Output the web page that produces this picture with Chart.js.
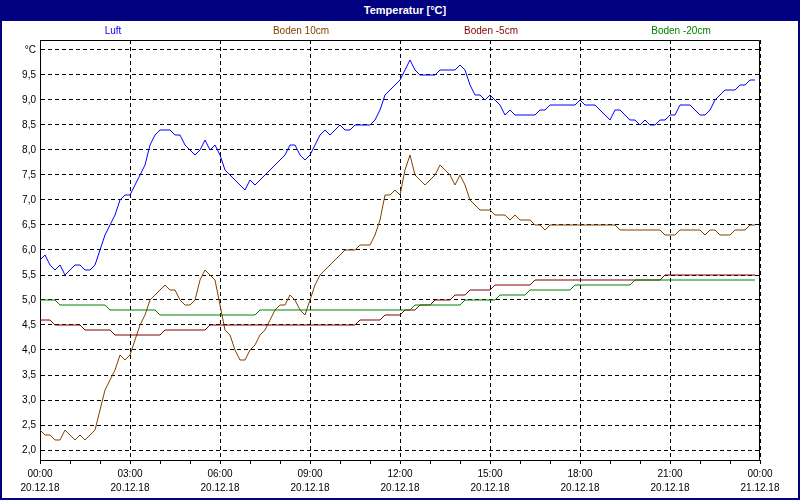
<!DOCTYPE html>
<html><head><meta charset="utf-8">
<script src="https://cdn.jsdelivr.net/npm/chart.js@4"></script>
<style>
html,body{margin:0;padding:0;background:#fff}
#wrap{position:relative;width:800px;height:500px;overflow:hidden;background:#fff;font-family:"Liberation Sans",Arial,sans-serif}
#c{position:absolute;left:0;top:0}
#title{position:absolute;left:0;top:0;width:800px;height:21px;background:#000080;color:#fff;font-weight:bold;font-size:11px;line-height:20px;text-align:center;box-sizing:border-box;padding-left:10px}
.lg{position:absolute;top:24px;font-size:10px;line-height:14px;transform:translateX(-50%);white-space:nowrap}
#frame{position:absolute;left:0;top:0;width:800px;height:500px;box-sizing:border-box;border:2px solid #000080;pointer-events:none}
</style></head><body>
<div id="wrap">
<canvas id="c" width="800" height="500"></canvas>
<div id="title">Temperatur [°C]</div>
<div id="frame"></div>
</div>
<script>
const chartTitle = 'Temperatur [°C]';
const seriesNames = ['Luft', 'Boden 10cm', 'Boden -5cm', 'Boden -20cm'];
const seriesColors = ['#0000ff', '#804000', '#800000', '#008000'];
const legendX = [113, 301, 491, 681];

const times = [
"00:00","00:10","00:20","00:30","00:40","00:50","01:00","01:10","01:20","01:30","01:40","01:50",
"02:00","02:10","02:20","02:30","02:40","02:50","03:00","03:10","03:20","03:30","03:40","03:50",
"04:00","04:10","04:20","04:30","04:40","04:50","05:00","05:10","05:20","05:30","05:40","05:50",
"06:00","06:10","06:20","06:30","06:40","06:50","07:00","07:10","07:20","07:30","07:40","07:50",
"08:00","08:10","08:20","08:30","08:40","08:50","09:00","09:10","09:20","09:30","09:40","09:50",
"10:00","10:10","10:20","10:30","10:40","10:50","11:00","11:10","11:20","11:30","11:40","11:50",
"12:00","12:10","12:20","12:30","12:40","12:50","13:00","13:10","13:20","13:30","13:40","13:50",
"14:00","14:10","14:20","14:30","14:40","14:50","15:00","15:10","15:20","15:30","15:40","15:50",
"16:00","16:10","16:20","16:30","16:40","16:50","17:00","17:10","17:20","17:30","17:40","17:50",
"18:00","18:10","18:20","18:30","18:40","18:50","19:00","19:10","19:20","19:30","19:40","19:50",
"20:00","20:10","20:20","20:30","20:40","20:50","21:00","21:10","21:20","21:30","21:40","21:50",
"22:00","22:10","22:20","22:30","22:40","22:50","23:00","23:10","23:20","23:30","23:40","23:50",
"24:00"];

const xTickLabels = [
  ['00:00','20.12.18'], ['03:00','20.12.18'], ['06:00','20.12.18'], ['09:00','20.12.18'],
  ['12:00','20.12.18'], ['15:00','20.12.18'], ['18:00','20.12.18'], ['21:00','20.12.18'],
  ['00:00','21.12.18']];
const yTickValues = [2.0,2.5,3.0,3.5,4.0,4.5,5.0,5.5,6.0,6.5,7.0,7.5,8.0,8.5,9.0,9.5,10.0];
const yUnitLabel = '°C';

const luft = [
5.8,5.9,5.7,5.6,5.7,5.5,5.6,5.7,5.7,5.6,5.6,5.7,
6.0,6.3,6.5,6.7,7.0,7.1,7.1,7.3,7.5,7.7,8.1,8.3,
8.4,8.4,8.4,8.3,8.3,8.1,8.0,7.9,8.0,8.2,8.0,8.1,
7.9,7.6,7.5,7.4,7.3,7.2,7.4,7.3,7.4,7.5,7.6,7.7,
7.8,7.9,8.1,8.1,7.9,7.8,7.9,8.1,8.3,8.4,8.3,8.4,
8.5,8.4,8.4,8.5,8.5,8.5,8.5,8.6,8.8,9.1,9.2,9.3,
9.4,9.6,9.8,9.6,9.5,9.5,9.5,9.5,9.6,9.6,9.6,9.6,
9.7,9.6,9.3,9.1,9.1,9.0,9.1,9.0,8.9,8.7,8.8,8.7,
8.7,8.7,8.7,8.7,8.8,8.8,8.9,8.9,8.9,8.9,8.9,8.9,
9.0,8.9,8.9,8.9,8.8,8.7,8.6,8.8,8.8,8.7,8.6,8.6,
8.5,8.6,8.5,8.5,8.6,8.6,8.7,8.7,8.9,8.9,8.9,8.8,
8.7,8.7,8.8,9.0,9.1,9.2,9.2,9.2,9.3,9.3,9.4,9.4];

const boden10 = [
2.4,2.3,2.3,2.2,2.2,2.4,2.3,2.2,2.3,2.2,2.3,2.4,
2.8,3.2,3.4,3.6,3.9,3.8,3.9,4.2,4.5,4.7,5.0,5.1,
5.2,5.3,5.2,5.2,5.0,4.9,4.9,5.0,5.4,5.6,5.5,5.4,
4.9,4.4,4.3,4.0,3.8,3.8,4.0,4.1,4.3,4.4,4.6,4.8,
4.9,4.9,5.1,5.0,4.8,4.7,5.0,5.3,5.5,5.6,5.7,5.8,
5.9,6.0,6.0,6.0,6.1,6.1,6.1,6.3,6.6,7.1,7.1,7.2,
7.1,7.6,7.9,7.5,7.4,7.3,7.4,7.5,7.7,7.6,7.5,7.3,
7.5,7.3,7.0,6.9,6.8,6.8,6.8,6.7,6.7,6.7,6.6,6.7,
6.6,6.6,6.6,6.5,6.5,6.4,6.5,6.5,6.5,6.5,6.5,6.5,
6.5,6.5,6.5,6.5,6.5,6.5,6.5,6.5,6.4,6.4,6.4,6.4,
6.4,6.4,6.4,6.4,6.4,6.3,6.3,6.3,6.4,6.4,6.4,6.4,
6.4,6.3,6.4,6.4,6.3,6.3,6.3,6.4,6.4,6.4,6.5,6.5];

const boden5 = [
4.6,4.6,4.6,4.5,4.5,4.5,4.5,4.5,4.5,4.4,4.4,4.4,
4.4,4.4,4.4,4.3,4.3,4.3,4.3,4.3,4.3,4.3,4.3,4.3,
4.3,4.4,4.4,4.4,4.4,4.4,4.4,4.4,4.4,4.4,4.5,4.5,
4.5,4.5,4.5,4.5,4.5,4.5,4.5,4.5,4.5,4.5,4.5,4.5,
4.5,4.5,4.5,4.5,4.5,4.5,4.5,4.5,4.5,4.5,4.5,4.5,
4.5,4.5,4.5,4.5,4.6,4.6,4.6,4.6,4.6,4.7,4.7,4.7,
4.7,4.8,4.8,4.8,4.9,4.9,4.9,5.0,5.0,5.0,5.0,5.1,
5.1,5.1,5.2,5.2,5.2,5.2,5.2,5.3,5.3,5.3,5.3,5.3,
5.3,5.3,5.3,5.4,5.4,5.4,5.4,5.4,5.4,5.4,5.4,5.4,
5.4,5.4,5.4,5.4,5.4,5.4,5.4,5.4,5.4,5.4,5.4,5.4,
5.4,5.4,5.4,5.4,5.4,5.5,5.5,5.5,5.5,5.5,5.5,5.5,
5.5,5.5,5.5,5.5,5.5,5.5,5.5,5.5,5.5,5.5,5.5,5.5];

const boden20 = [
5.0,5.0,5.0,5.0,4.9,4.9,4.9,4.9,4.9,4.9,4.9,4.9,
4.9,4.9,4.8,4.8,4.8,4.8,4.8,4.8,4.8,4.8,4.8,4.8,
4.7,4.7,4.7,4.7,4.7,4.7,4.7,4.7,4.7,4.7,4.7,4.7,
4.7,4.7,4.7,4.7,4.7,4.7,4.7,4.7,4.8,4.8,4.8,4.8,
4.8,4.8,4.8,4.8,4.8,4.8,4.8,4.8,4.8,4.8,4.8,4.8,
4.8,4.8,4.8,4.8,4.8,4.8,4.8,4.8,4.8,4.8,4.8,4.8,
4.8,4.8,4.8,4.9,4.9,4.9,4.9,4.9,4.9,4.9,4.9,4.9,
4.9,5.0,5.0,5.0,5.0,5.0,5.0,5.0,5.1,5.1,5.1,5.1,
5.1,5.1,5.2,5.2,5.2,5.2,5.2,5.2,5.2,5.2,5.2,5.3,
5.3,5.3,5.3,5.3,5.3,5.3,5.3,5.3,5.3,5.3,5.3,5.4,
5.4,5.4,5.4,5.4,5.4,5.4,5.4,5.4,5.4,5.4,5.4,5.4,
5.4,5.4,5.4,5.4,5.4,5.4,5.4,5.4,5.4,5.4,5.4,5.4];

// legend as real text
document.getElementById('title').textContent = chartTitle;
const wrap = document.getElementById('wrap');
seriesNames.forEach((n, i) => {
  const d = document.createElement('div');
  d.className = 'lg';
  d.style.left = legendX[i] + 'px';
  d.style.color = seriesColors[i];
  d.textContent = n;
  wrap.insertBefore(d, document.getElementById('frame'));
});

const seriesData = [luft, boden10, boden5, boden20];
const drawOrder = [4, 3, 2, 1];

Chart.defaults.font.family = '"Liberation Sans", Arial, sans-serif';
Chart.defaults.font.size = 10;
Chart.defaults.color = '#000';

const framePlugin = {
  id: 'frame',
  afterDraw(chart) {
    const {ctx, chartArea: a} = chart;
    const l = Math.round(a.left) + 0.5, r = Math.round(a.right) - 0.5;
    const t = Math.round(a.top) + 0.5, b = Math.round(a.bottom) + 0.5;
    ctx.save();
    ctx.strokeStyle = '#000';
    ctx.lineWidth = 1;
    ctx.beginPath();
    ctx.moveTo(l, t); ctx.lineTo(r, t); ctx.lineTo(r, b);
    ctx.stroke();
    ctx.restore();
  }
};

new Chart(document.getElementById('c'), {
  type: 'line',
  data: {
    labels: times,
    datasets: seriesNames.map((n, i) => ({
      label: n,
      data: seriesData[i],
      borderColor: seriesColors[i],
      backgroundColor: seriesColors[i],
      borderWidth: 1,
      pointRadius: 0,
      tension: 0,
      fill: false,
      order: drawOrder[i]
    }))
  },
  options: {
    responsive: false,
    animation: false,
    events: [],
    layout: { padding: { top: 40, right: 40, bottom: 0, left: 0 } },
    plugins: { legend: { display: false }, title: { display: false }, tooltip: { enabled: false } },
    scales: {
      x: {
        type: 'category',
        offset: false,
        afterFit(s) { s.height = 40; },
        border: { display: true, color: '#000', width: 1, dash: [4, 3] },
        grid: {
          color: (c) => (c.index % 18 === 0 ? '#000' : 'rgba(0,0,0,0)'),
          lineWidth: 1,
          drawTicks: true,
          tickLength: 4,
          tickColor: (c) => (c.index % 6 === 0 ? '#000' : 'rgba(0,0,0,0)'),
          tickBorderDash: []
        },
        ticks: {
          autoSkip: false,
          maxRotation: 0,
          minRotation: 0,
          padding: 3,
          font: { size: 10, lineHeight: 1.4 },
          color: '#000',
          callback: (v, i) => (i % 18 === 0 ? xTickLabels[i / 18] : '')
        }
      },
      y: {
        min: 1.8,
        max: 10.2,
        afterFit(s) { s.width = 40; },
        afterBuildTicks(s) { s.ticks = yTickValues.map(v => ({ value: v })); },
        border: { display: true, color: '#000', width: 1, dash: [4, 3] },
        grid: { color: '#000', lineWidth: 1, drawTicks: false },
        ticks: {
          padding: 4,
          font: { size: 10 },
          color: '#000',
          callback: (v) => (v === 10 ? yUnitLabel : v.toFixed(1).replace('.', ','))
        }
      }
    }
  },
  plugins: [framePlugin]
});
</script>
</body></html>
